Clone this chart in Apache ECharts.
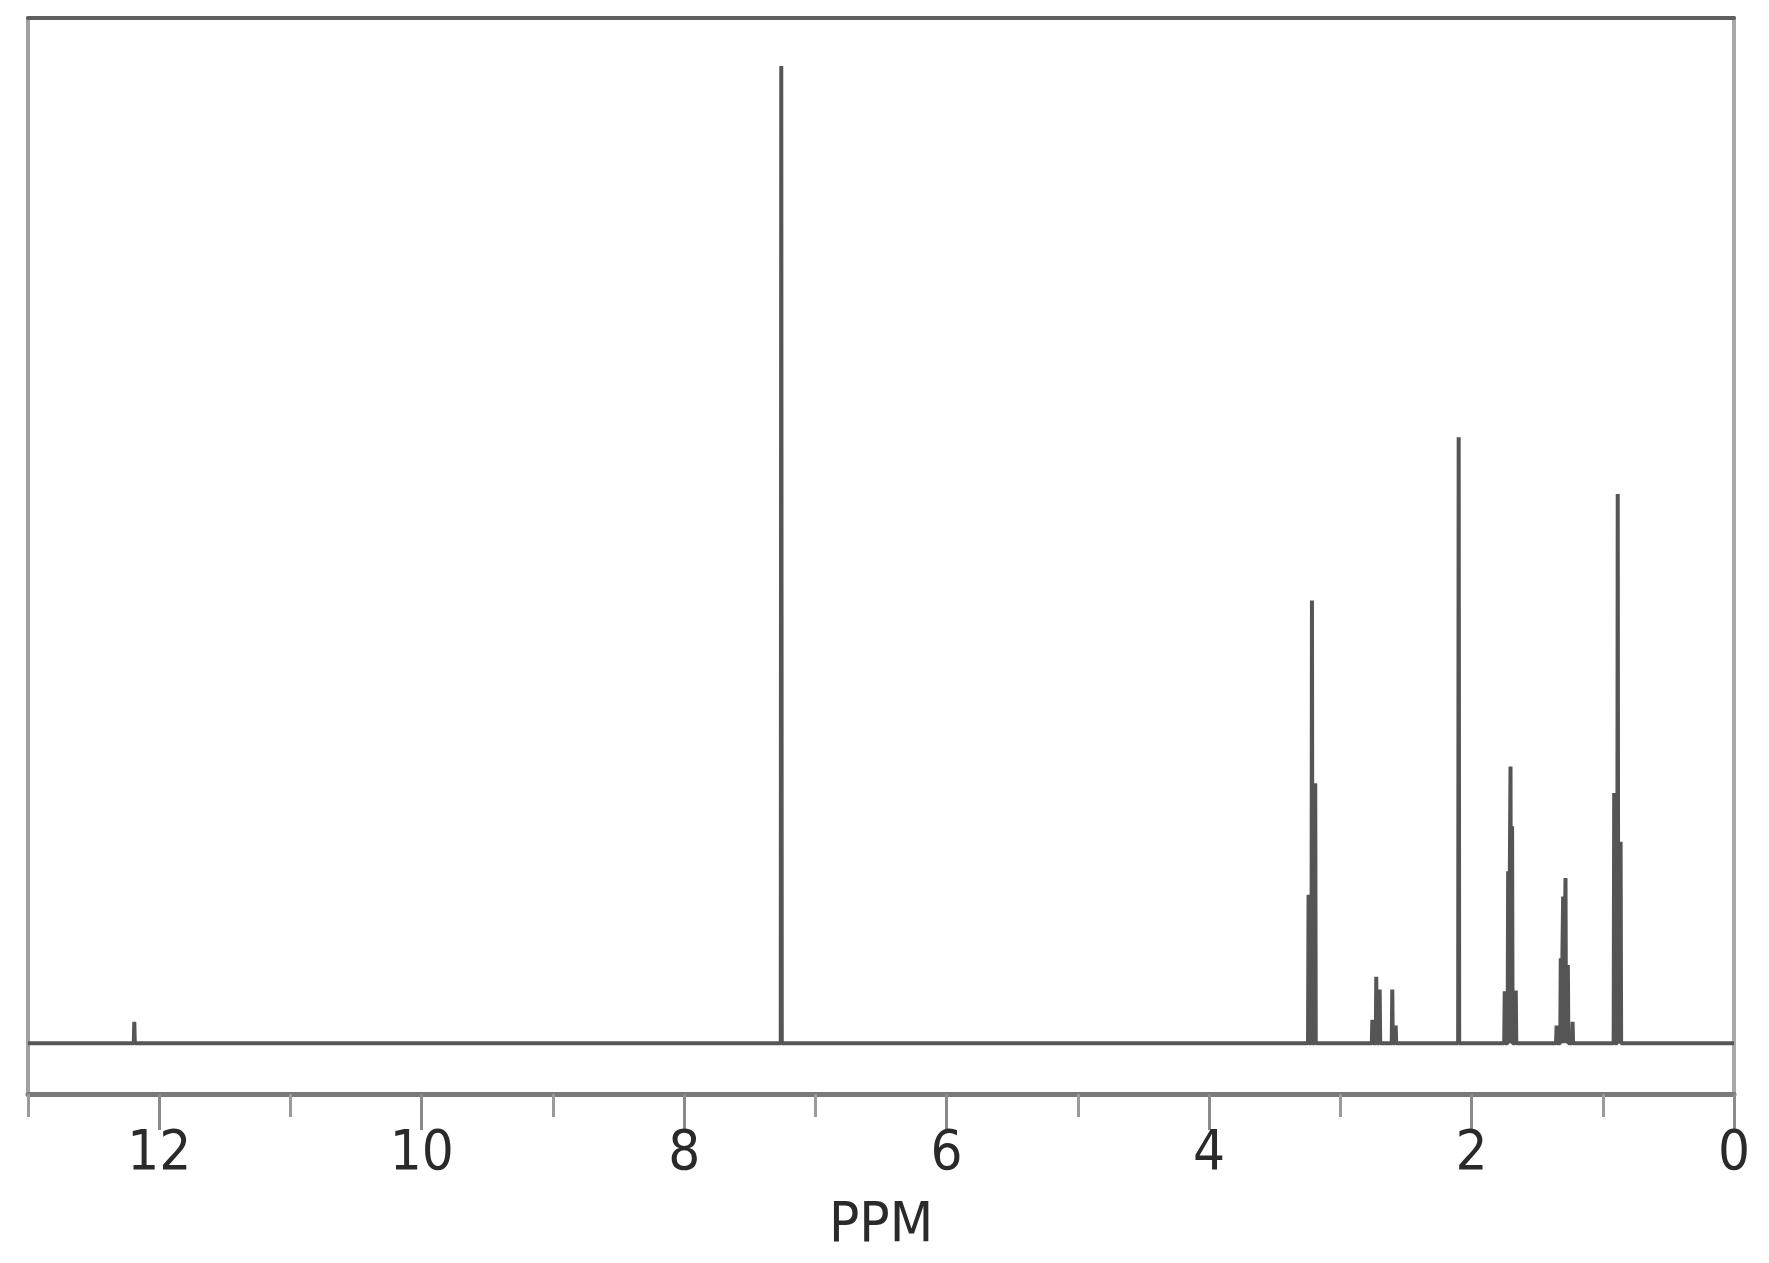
<!DOCTYPE html>
<html>
<head>
<meta charset="utf-8">
<title>NMR spectrum</title>
<script src="https://cdn.jsdelivr.net/npm/echarts@6/dist/echarts.min.js"></script>
<style>
  html, body {
    margin: 0;
    padding: 0;
    background: #ffffff;
  }
  #chart {
    width: 1769px;
    height: 1263px;
  }
</style>
</head>
<body>
<div id="chart"></div>
<script>
// peak list (shift in ppm, height relative to the 7.26 line)
const peakShift = [
  12.19, 7.26,
  3.242, 3.216, 3.191,
  2.756, 2.726, 2.700, 2.604, 2.578,
  2.098,
  1.747, 1.721, 1.703, 1.691, 1.663,
  1.352, 1.320, 1.302, 1.284, 1.266, 1.230,
  0.913, 0.886, 0.864
];
const peakHeight = [
  2.2, 100,
  15.2, 45.3, 26.6,
  2.4, 6.8, 5.5, 5.5, 1.8,
  62.0,
  5.3, 17.6, 28.3, 22.2, 5.4,
  1.8, 8.7, 15.0, 16.9, 8.0, 2.2,
  25.6, 56.2, 20.6
];
const majorTicks = [0, 2, 4, 6, 8, 10, 12];
const minorTicks = [1, 3, 5, 7, 9, 11, 13];

// stick spectrum: baseline with a narrow spike for every line
const foot = 0.004;
const spectrum = [[13, 0]];
peakShift.forEach((s, i) => {
  spectrum.push([s + foot, 0]);
  spectrum.push([s, peakHeight[i]]);
  spectrum.push([s - foot, 0]);
});
spectrum.push([0, 0]);

const labelFont = "'Liberation Sans Narrow', 'DejaVu Sans Condensed', 'Liberation Sans', sans-serif";

const chart = echarts.init(document.getElementById("chart"));

chart.setOption({
  animation: false,
  grid: {
    left: 28,
    right: 35,
    top: 18,
    bottom: 169
  },
  xAxis: [
    {
      type: "value",
      min: 0,
      max: 13,
      inverse: true,
      position: "bottom",
      name: "PPM",
      nameLocation: "middle",
      nameGap: 104,
      nameTextStyle: {
        fontFamily: labelFont,
        fontSize: 56,
        color: "#2a2a2a"
      },
      axisLine: {
        show: true,
        onZero: false,
        lineStyle: { color: "#7a7a7a", width: 5 }
      },
      axisTick: {
        show: true,
        customValues: majorTicks,
        length: 36,
        lineStyle: { color: "#8a8a8a", width: 3 }
      },
      axisLabel: {
        show: true,
        customValues: majorTicks,
        margin: 32,
        fontFamily: labelFont,
        fontSize: 56,
        color: "#2a2a2a"
      },
      splitLine: { show: false }
    },
    {
      type: "value",
      min: 0,
      max: 13,
      inverse: true,
      position: "bottom",
      axisLine: { show: false, onZero: false },
      axisTick: {
        show: true,
        customValues: minorTicks,
        length: 23,
        lineStyle: { color: "#9a9a9a", width: 3 }
      },
      axisLabel: { show: false },
      splitLine: { show: false }
    },
    {
      type: "value",
      min: 0,
      max: 13,
      inverse: true,
      position: "top",
      axisLine: {
        show: true,
        onZero: false,
        lineStyle: { color: "#5e5e5e", width: 4 }
      },
      axisTick: { show: false },
      axisLabel: { show: false },
      splitLine: { show: false }
    }
  ],
  yAxis: [
    {
      type: "value",
      min: -5.2,
      max: 104.9,
      position: "left",
      axisLine: {
        show: true,
        onZero: false,
        lineStyle: { color: "#a0a0a0", width: 4 }
      },
      axisTick: { show: false },
      axisLabel: { show: false },
      splitLine: { show: false }
    },
    {
      type: "value",
      min: -5.2,
      max: 104.9,
      position: "right",
      axisLine: {
        show: true,
        onZero: false,
        lineStyle: { color: "#a8a8a8", width: 4 }
      },
      axisTick: { show: false },
      axisLabel: { show: false },
      splitLine: { show: false }
    }
  ],
  series: [
    {
      name: "spectrum",
      type: "line",
      xAxisIndex: 0,
      yAxisIndex: 0,
      data: spectrum,
      symbol: "none",
      sampling: null,
      lineStyle: {
        color: "#555555",
        width: 4
      }
    }
  ]
});
</script>
</body>
</html>
